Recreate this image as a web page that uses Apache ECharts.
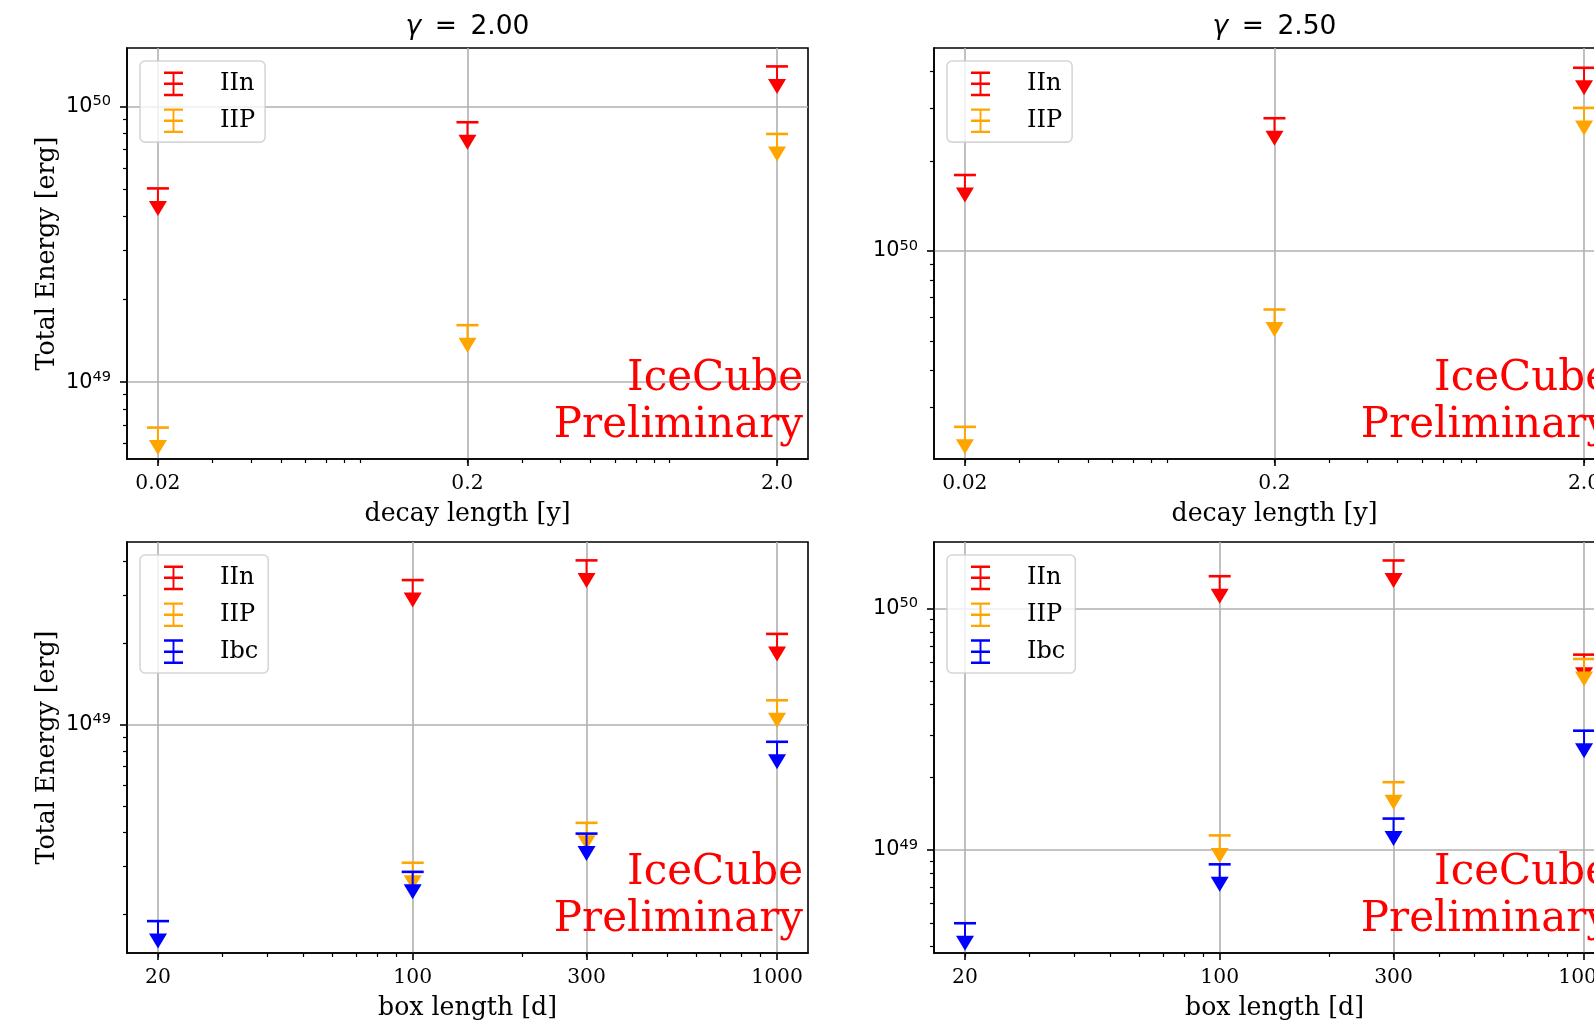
<!DOCTYPE html>
<html>
<head>
<meta charset="utf-8">
<script src="https://cdn.jsdelivr.net/npm/echarts@6.0.0/dist/echarts.min.js"></script>
<style>
html, body { margin: 0; padding: 0; background: #fff; }
#chart { width: 1594px; height: 1026px; }
</style>
</head>
<body>
<div id="chart"></div>
<script>
// x axis ticks
const decayLengths = [0.02, 0.2, 2.0];
const decayTickLabels = ['0.02', '0.2', '2.0'];
const boxLengths = [20, 100, 300, 1000];
const boxTickLabels = ['20', '100', '300', '1000'];
const energyTicks = [1e48, 1e49, 1e50, 1e51];
const gammaLabels = ['2.00', '2.50'];

// axis ranges
const decayRange = [0.01589, 2.518];
const boxRange = [16.44, 1216];
const energyRanges = [
	[5.26e48, 1.633e50],
	[2.014e49, 4.775e50],
	[1.442e48, 4.71e49],
	[3.75e48, 1.884e50]
];

// upper limits on total energy [erg]
const decayIIn_g200 = [5.05e49, 8.78e49, 1.40e50];
const decayIIP_g200 = [6.84e48, 1.61e49, 7.96e49];
const decayIIn_g250 = [1.795e50, 2.78e50, 4.10e50];
const decayIIP_g250 = [2.58e49, 6.37e49, 3.01e50];
const boxIIn_g200 = [null, 3.41e49, 4.03e49, 2.16e49];
const boxIIP_g200 = [null, 3.10e48, 4.35e48, 1.23e49];
const boxIbc_g200 = [1.89e48, 2.87e48, 3.97e48, 8.65e48];
const boxIIn_g250 = [null, 1.36e50, 1.58e50, 6.44e49];
const boxIIP_g250 = [null, 1.15e49, 1.91e49, 6.18e49];
const boxIbc_g250 = [4.98e48, 8.73e48, 1.35e49, 3.12e49];

const snColors = { IIn: '#ff0000', IIP: '#ffa500', Ibc: '#0000ff' };
const serif = '"DejaVu Serif", serif';
const sans = '"DejaVu Sans", sans-serif';

const panels = [
	{ xs: decayLengths, labels: decayTickLabels, range: decayRange, sets: { IIn: decayIIn_g200, IIP: decayIIP_g200 } },
	{ xs: decayLengths, labels: decayTickLabels, range: decayRange, sets: { IIn: decayIIn_g250, IIP: decayIIP_g250 } },
	{ xs: boxLengths, labels: boxTickLabels, range: boxRange, sets: { IIn: boxIIn_g200, IIP: boxIIP_g200, Ibc: boxIbc_g200 } },
	{ xs: boxLengths, labels: boxTickLabels, range: boxRange, sets: { IIn: boxIIn_g250, IIP: boxIIP_g250, Ibc: boxIbc_g250 } }
];
const gridPos = [[127, 48], [934, 48], [127, 542], [934, 542]];

// errorbar handle for the legends
const errIcon = 'path://M0 0H20V2.6H0Z M9 0H11V26H9Z M0 11.7H20V14.3H0Z M0 23.4H20V26H0Z';

function nearest(arr, v) {
	let best = 0;
	arr.forEach(function (a, k) {
		if (Math.abs(Math.log(a / v)) < Math.abs(Math.log(arr[best] / v))) best = k;
	});
	return best;
}

// cap at the limit, bar and down arrow below it
function renderLimit(params, api) {
	const p = api.coord([api.value(0), api.value(1)]);
	const c = api.visual('color');
	return {
		type: 'group',
		children: [
			{ type: 'line', shape: { x1: p[0], y1: p[1], x2: p[0], y2: p[1] + 14 }, style: { stroke: c, lineWidth: 2 } },
			{ type: 'line', shape: { x1: p[0] - 11, y1: p[1], x2: p[0] + 11, y2: p[1] }, style: { stroke: c, lineWidth: 2.6 } },
			{ type: 'polygon', shape: { points: [[p[0] - 9, p[1] + 12.5], [p[0] + 9, p[1] + 12.5], [p[0], p[1] + 27.5]] }, style: { fill: c } }
		]
	};
}

const myChart = echarts.init(document.getElementById('chart'));

let xAxes = [], yAxes = [], series = [], legends = [], texts = [];

panels.forEach(function (pn, i) {
	xAxes.push({
		type: 'log', logBase: 10, gridIndex: i,
		min: pn.range[0], max: pn.range[1],
		name: i < 2 ? 'decay length [y]' : 'box length [d]',
		nameLocation: 'middle', nameGap: 43,
		nameTextStyle: { fontFamily: serif, fontSize: 25.2, color: '#000' },
		axisLine: { show: true, lineStyle: { color: '#000', width: 1.6 } },
		axisTick: { show: true, length: 7, customValues: pn.xs, lineStyle: { color: '#000', width: 1.6 } },
		minorTick: { show: true, splitNumber: 9, length: 4, lineStyle: { color: '#000', width: 1.2 } },
		axisLabel: {
			customValues: pn.xs, margin: 15, fontFamily: serif, fontSize: 20.3, color: '#000',
			formatter: function (v) { return pn.labels[nearest(pn.xs, v)]; }
		},
		splitLine: { show: true, lineStyle: { color: '#b0b0b0', width: 1.6 } },
		minorSplitLine: { show: false }
	});
	yAxes.push({
		type: 'log', logBase: 10, gridIndex: i,
		min: energyRanges[i][0], max: energyRanges[i][1],
		name: i % 2 === 0 ? 'Total Energy [erg]' : '',
		nameLocation: 'middle', nameGap: 67,
		nameTextStyle: { fontFamily: serif, fontSize: 25.2, color: '#000' },
		axisLine: { show: true, lineStyle: { color: '#000', width: 1.6 } },
		axisTick: { show: true, length: 7, customValues: energyTicks, lineStyle: { color: '#000', width: 1.6 } },
		minorTick: { show: true, splitNumber: 9, length: 4, lineStyle: { color: '#000', width: 1.2 } },
		axisLabel: {
			customValues: energyTicks, margin: 16, fontFamily: sans, fontSize: 20.8, color: '#000',
			formatter: function (v) { return '10{sup|' + Math.round(Math.log10(v)) + '}'; },
			rich: { sup: { fontFamily: sans, fontSize: 14.6, color: '#000', padding: [0, 0, 10, 0] } }
		},
		splitLine: { show: true, lineStyle: { color: '#b0b0b0', width: 1.6 } },
		minorSplitLine: { show: false }
	});
	const names = Object.keys(pn.sets);
	names.forEach(function (n) {
		const vals = pn.sets[n];
		series.push({
			type: 'custom', name: n, coordinateSystem: 'cartesian2d',
			xAxisIndex: i, yAxisIndex: i,
			itemStyle: { color: snColors[n] },
			encode: { x: 0, y: 1 },
			data: pn.xs.map(function (x, k) { return vals[k] == null ? null : [x, vals[k]]; }).filter(Boolean),
			renderItem: renderLimit,
			z: 3
		});
	});
	legends.push({
		orient: 'vertical', left: gridPos[i][0] + 13, top: gridPos[i][1] + 13,
		data: names.map(function (n) { return { name: n, icon: errIcon }; }),
		itemWidth: 19, itemHeight: 25, itemGap: 12.2,
		padding: [10.5, 10, 9, 24],
		backgroundColor: 'rgba(255,255,255,0.8)', borderColor: 'rgba(204,204,204,0.8)',
		borderWidth: 1.6, borderRadius: 5,
		textStyle: { fontFamily: serif, fontSize: 24, color: '#000', padding: [0, 0, 0, 32] },
		itemStyle: { borderWidth: 0 },
		selectedMode: false
	});
	texts.push({
		type: 'text', x: gridPos[i][0] + 676, y: gridPos[i][1] + 401, z: 10,
		style: {
			text: 'IceCube\nPreliminary', fill: '#ff0000',
			fontFamily: serif, fontSize: 42, lineHeight: 46.5,
			align: 'right', verticalAlign: 'bottom'
		}
	});
});

let option = {
	backgroundColor: '#fff',
	animation: false,
	title: gammaLabels.map(function (g, i) {
		return {
			text: '{g|γ}{e|=}' + g,
			left: gridPos[i][0] + 340.5, top: 14, textAlign: 'center', padding: 0,
			textStyle: {
				fontFamily: sans, fontSize: 26.5, fontWeight: 'normal', color: '#000',
				rich: {
					g: { fontFamily: sans, fontSize: 26.5, fontStyle: 'italic', color: '#000', padding: [0, 13.5, 0, 0] },
					e: { fontFamily: sans, fontSize: 26.5, color: '#000', padding: [0, 13.5, 0, 0] }
				}
			}
		};
	}),
	grid: gridPos.map(function (p) {
		return {
			left: p[0], top: p[1], width: 681, height: 411,
			show: true, borderColor: '#000', borderWidth: 1.6, backgroundColor: 'transparent',
			containLabel: false, outerBoundsMode: 'none'
		};
	}),
	legend: legends,
	xAxis: xAxes,
	yAxis: yAxes,
	series: series,
	graphic: texts
};

myChart.setOption(option);
</script>
</body>
</html>
